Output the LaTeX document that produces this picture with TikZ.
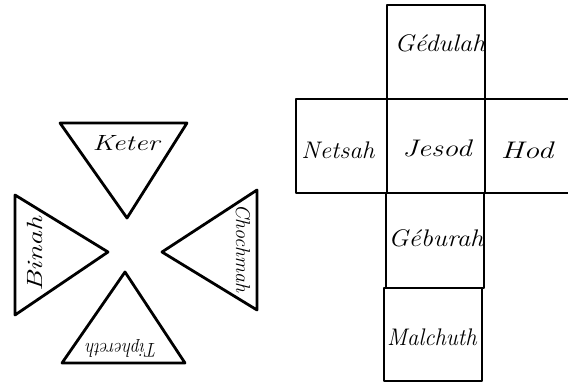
\documentclass[tikz,border=0pt]{standalone}
\usepackage{fontspec}
\begin{document}
\begin{tikzpicture}[x=1pt,y=-1pt,
  outl/.style={draw=black,line width=2.8pt,line join=round},
  tlab/.style={font=\fontsize{22}{26}\selectfont\itshape,inner sep=0pt},
  blab/.style={font=\fontsize{24}{28}\selectfont\itshape,inner sep=0pt}]
\useasboundingbox (0,0) rectangle (568,383);
% triangles
\draw[outl] (60,123) -- (187,123) -- (127,218) -- cycle;
\draw[outl] (15,195) -- (15,315) -- (108,252) -- cycle;
\draw[outl] (257,190) -- (257,310) -- (162,252) -- cycle;
\draw[outl] (125,272) -- (185,363) -- (62,363) -- cycle;
\node[tlab] (keter) at (126,143) {\scalebox{1.3}[1]{Keter}};
\node[tlab,rotate=90] (binah) at (35,254) {\scalebox{1.35}[1]{Binah}};
\node[tlab,rotate=-90] (chochmah) at (243,248) {\fontsize{20}{24}\selectfont Chochmah};
\node[tlab,rotate=180] (tiph) at (122,348) {\fontsize{20}{24}\selectfont\scalebox{0.88}[1]{Tiphereth}};
% boxes
\draw[outl] (387,5) rectangle (485,99);
\draw[outl] (296,99) rectangle (387,193);
\draw[outl] (387,99) rectangle (485,193);
\draw[outl] (485,99) -- (568,99);
\draw[outl] (485,193) -- (568,193);
\draw[outl] (386,193) rectangle (484,288);
\draw[outl] (384,288) rectangle (482,381);
\node[blab] (gedulah) at (440,43) {\scalebox{1.1}[1]{Gédulah}};
\node[blab] (netsah) at (338,150) {\scalebox{1.05}[1]{Netsah}};
\node[blab] (jesod) at (437,148) {\scalebox{1.25}[1]{Jesod}};
\node[blab] (hod) at (527,150) {\scalebox{1.3}[1]{Hod}};
\node[blab] (geburah) at (436,238) {\scalebox{1.12}[1]{Géburah}};
\node[blab] (malchuth) at (432,337) {\scalebox{0.95}[1]{Malchuth}};
\end{tikzpicture}
\end{document}
